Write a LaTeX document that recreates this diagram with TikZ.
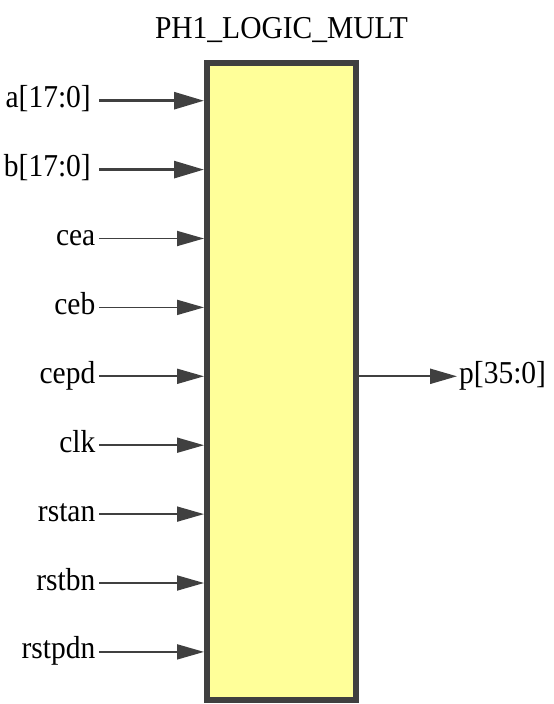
\documentclass[tikz,border=0pt]{standalone}
\usepackage{fontspec}
\setmainfont{Liberation Serif}
\usetikzlibrary{arrows.meta}
\definecolor{edge}{HTML}{404040}
\definecolor{boxfill}{HTML}{FFFF99}
\newcommand{\tall}[1]{\scalebox{1}[1.08]{#1}}
\begin{document}
\begin{tikzpicture}[x=1pt,y=1pt,
  lbl/.style={inner sep=0pt,font=\fontsize{29.5}{34}\selectfont},
  inlbl/.style={lbl,anchor=base east},
  outlbl/.style={lbl,anchor=base west},
  bus/.style={draw=edge,line width=2.8pt,-{Triangle[length=30pt,width=17pt]}},
  wire/.style={draw=edge,line width=1.8pt,-{Triangle[length=27pt,width=15pt]}},
  blk/.style={draw=edge,fill=boxfill,line width=6pt,minimum width=149pt,minimum height=637pt,inner sep=0pt}
]
\useasboundingbox (0,0) rectangle (554,-704);
\node[blk] (box) at (281.5,-381.5) {};
\node[lbl,anchor=base] (title) at (281.5,-38.5) {\tall{PH1\_LOGIC\_MULT}};
\foreach \n/\t/\i/\s/\xe in {a/{a[17:0]}/0/bus/91, b/{b[17:0]}/1/bus/91, cea/cea/2/wire/95.5, ceb/ceb/3/wire/95.5, cepd/cepd/4/wire/95.5, clk/clk/5/wire/95.5, rstan/rstan/6/wire/95.5, rstbn/rstbn/7/wire/95.5, rstpdn/rstpdn/8/wire/95.5}{
  \pgfmathsetmacro{\yy}{100.7+68.9*\i}
  \node[inlbl] (\n) at (\xe,-\yy-7) {\tall{\t}};
  \coordinate (\n s) at (99,-\yy);
  \draw[\s] (\n s) -- (box.west |- \n s);
}
\pgfmathsetmacro{\yp}{100.7+68.9*4}
\coordinate (ps) at (box.east |- 0,-\yp);
\node[outlbl] (p) at (459,-\yp-7) {\tall{p[35:0]}};
\coordinate (pe) at (457,-\yp);
\draw[wire,line width=2.2pt] (ps) -- (pe);
\end{tikzpicture}
\end{document}
